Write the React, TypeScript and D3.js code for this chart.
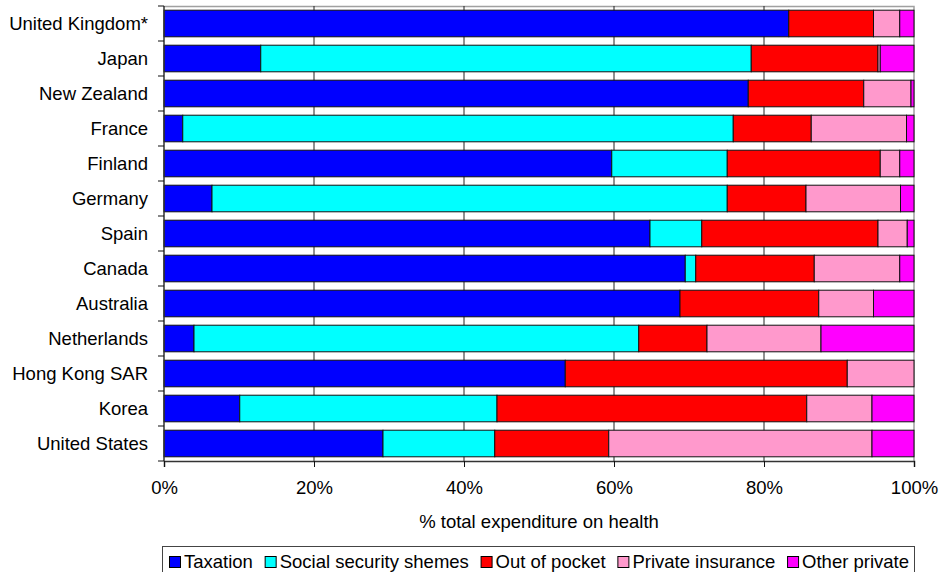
import React, { useEffect, useRef } from 'react';
import * as d3 from 'd3';

const countries = [
  'United Kingdom*', 'Japan', 'New Zealand', 'France', 'Finland', 'Germany', 'Spain',
  'Canada', 'Australia', 'Netherlands', 'Hong Kong SAR', 'Korea', 'United States',
];
const taxation = [83.3, 12.9, 77.9, 2.5, 59.7, 6.4, 64.8, 69.5, 68.8, 4.0, 53.5, 10.1, 29.2];
const socialSecurity = [0, 65.4, 0, 73.4, 15.4, 68.7, 6.9, 1.4, 0, 59.3, 0, 34.3, 14.9];
const outOfPocket = [11.3, 16.9, 15.4, 10.4, 20.4, 10.5, 23.5, 15.8, 18.5, 9.1, 37.6, 41.3, 15.2];
const privateInsurance = [3.5, 0.3, 6.3, 12.7, 2.6, 12.6, 3.9, 11.4, 7.3, 15.2, 8.9, 8.7, 35.1];
const otherPrivate = [1.9, 4.5, 0.4, 1.0, 1.9, 1.8, 0.9, 1.9, 5.4, 12.4, 0, 5.6, 5.6];
const seriesNames = ['Taxation', 'Social security shemes', 'Out of pocket', 'Private insurance', 'Other private'];
const seriesColors = ['#0000FF', '#00FFFF', '#FF0000', '#FF99CC', '#FF00FF'];
const xTicks = [0, 0.2, 0.4, 0.6, 0.8, 1];

const FONT = '"Liberation Sans", Arial, sans-serif';
const FS = '18.5px';

const App = () => {
  const svgRef = useRef<SVGSVGElement>(null);

  useEffect(() => {
    const width = 942;
    const height = 572;
    const margin = { top: 6, right: 28, bottom: 111, left: 164 };
    const innerW = width - margin.left - margin.right;
    const innerH = height - margin.top - margin.bottom;

    const root = d3.select(svgRef.current);
    root.selectAll('*').remove();
    root.attr('width', width).attr('height', height);

    const svg = root.append('g').attr('transform', `translate(${margin.left},${margin.top})`);

    // rows as objects so d3.stack can use them
    const cols = [taxation, socialSecurity, outOfPocket, privateInsurance, otherPrivate];
    const rows = countries.map((c, i) => {
      const r: any = { country: c };
      seriesNames.forEach((s, k) => { r[s] = cols[k][i]; });
      return r;
    });
    const stacked = d3.stack().keys(seriesNames).offset(d3.stackOffsetExpand)(rows);

    const x = d3.scaleLinear().domain([0, 1]).range([0, innerW]);
    const y = d3.scaleBand().domain(countries).range([0, innerH]).paddingInner(0.24).paddingOuter(0.12);
    const step = y.step();

    // plot frame (top/right)
    svg.append('path')
      .attr('d', `M0,0.5H${innerW}V${innerH}`)
      .attr('fill', 'none')
      .attr('stroke', '#a0a0a0')
      .attr('stroke-width', 1.5);

    // vertical gridlines
    svg.append('g')
      .selectAll('line')
      .data(xTicks.slice(1, -1))
      .join('line')
      .attr('x1', d => x(d)).attr('x2', d => x(d))
      .attr('y1', 0).attr('y2', innerH)
      .attr('stroke', '#222')
      .attr('stroke-width', 1);

    // bars
    svg.append('g')
      .selectAll('g')
      .data(stacked)
      .join('g')
      .attr('fill', (d, i) => seriesColors[i])
      .selectAll('rect')
      .data(d => d)
      .join('rect')
      .attr('x', d => x(d[0]))
      .attr('width', d => Math.max(0, x(d[1]) - x(d[0])))
      .attr('y', d => y(d.data.country)!)
      .attr('height', y.bandwidth())
      .attr('stroke', '#111')
      .attr('stroke-width', 1)
      .attr('display', d => (d[1] - d[0] > 0 ? null : 'none'));

    // y axis with ticks on band boundaries
    const yAxis = svg.append('g');
    yAxis.append('line')
      .attr('x1', 0).attr('x2', 0).attr('y1', 0).attr('y2', innerH)
      .attr('stroke', '#333').attr('stroke-width', 1.5);
    yAxis.selectAll('line.tick')
      .data(d3.range(countries.length + 1))
      .join('line')
      .attr('class', 'tick')
      .attr('x1', -6).attr('x2', 0)
      .attr('y1', i => i * step).attr('y2', i => i * step)
      .attr('stroke', '#111');
    yAxis.selectAll('text')
      .data(countries)
      .join('text')
      .attr('x', -16)
      .attr('y', d => y(d)! + y.bandwidth() / 2)
      .attr('dy', '0.36em')
      .attr('text-anchor', 'end')
      .style('font-family', FONT)
      .style('font-size', FS)
      .style('fill', '#000')
      .text(d => d);

    // x axis
    svg.append('g')
      .attr('transform', `translate(0,${innerH})`)
      .call(d3.axisBottom(x).tickValues(xTicks).tickFormat(d3.format('.0%')).tickSize(6).tickPadding(14))
      .call(g => g.select('.domain').attr('stroke', '#333').attr('stroke-width', 1.5))
      .call(g => g.selectAll('.tick line').attr('stroke', '#111'))
      .call(g => g.selectAll('.tick text')
        .style('font-family', FONT)
        .style('font-size', FS)
        .style('fill', '#000'));

    // axis title
    svg.append('text')
      .attr('x', innerW / 2)
      .attr('y', innerH + 67)
      .attr('text-anchor', 'middle')
      .style('font-family', FONT)
      .style('font-size', FS)
      .style('fill', '#000')
      .text('% total expenditure on health');

    // legend - items laid out in a row, spread to fill the box
    const legend = root.append('g').attr('transform', 'translate(162,546)');
    const boxW = 752;
    legend.append('rect')
      .attr('x', 0.5).attr('y', 0.5).attr('width', boxW).attr('height', 32)
      .attr('fill', '#fff').attr('stroke', '#444').attr('stroke-width', 1);
    const sq = 11;
    const textGap = 3;
    const items = seriesNames.map((name, i) => {
      const item = legend.append('g');
      item.append('rect')
        .attr('x', 0.5).attr('y', 10.5).attr('width', sq).attr('height', sq)
        .attr('fill', seriesColors[i]).attr('stroke', '#000');
      const t = item.append('text')
        .attr('x', sq + 1 + textGap).attr('y', 22)
        .style('font-family', FONT)
        .style('font-size', FS)
        .style('fill', '#000')
        .text(name);
      const w = (t.node() as SVGTextElement).getComputedTextLength();
      return { item, w: sq + 1 + textGap + w };
    });
    const padL = 7;
    const padR = 5;
    const total = d3.sum(items, d => d.w);
    const gap = (boxW - padL - padR - total) / (items.length - 1);
    let cx = padL;
    items.forEach(d => {
      d.item.attr('transform', `translate(${cx},0)`);
      cx += d.w + gap;
    });
  }, []);

  return (
    <div style={{ position: 'absolute', left: 0, top: 0 }}>
      <svg ref={svgRef} style={{ display: 'block' }}></svg>
    </div>
  );
};

export default App;
